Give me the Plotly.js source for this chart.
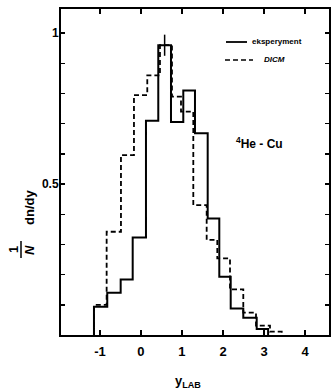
<!DOCTYPE html>
<html><head><meta charset="utf-8">
<script src="https://cdn.plot.ly/plotly-3.0.1.min.js"></script>
<style>html,body{margin:0;padding:0;background:#fff;}#chart{width:333px;height:389px;}</style>
</head><body><div id="chart"></div>
<script>
// Experimental histogram (solid)
const solidEdges = [-1.146, -0.822, -0.495, -0.202, 0.122, 0.422, 0.732, 1.032, 1.317, 1.627, 1.910, 2.188, 2.495, 2.822, 3.10];
const solidValues = [0.094, 0.14, 0.184, 0.323, 0.71, 0.96, 0.706, 0.81, 0.668, 0.386, 0.193, 0.088, 0.057, 0.02];
// DICM model histogram (dashed)
const dicmEdges = [-1.146, -0.837, -0.488, -0.171, 0.154, 0.463, 0.756, 0.976, 1.276, 1.602, 1.861, 2.171, 2.495, 2.805, 3.146, 3.432];
const dicmValues = [0.10, 0.342, 0.596, 0.795, 0.86, 0.96, 0.79, 0.74, 0.43, 0.315, 0.254, 0.151, 0.074, 0.031, 0.011];
// error bar on the experimental peak bin
const peakX = [0.577];
const peakY = [0.96];
const peakErr = [0.035];
const xTickVals = [-1, 0, 1, 2, 3, 4];
const xTickText = ['-1', '0', '1', '2', '3', '4'];
const yTickVals = [0.1, 0.2, 0.3, 0.4, 0.5, 0.6, 0.7, 0.8, 0.9, 1.0];
const yTickText = ['', '', '', '', '0.5', '', '', '', '', '1'];
const seriesNames = ['eksperyment', 'DICM'];

function steps(edges, values) {
  const x = [edges[0]], y = [0];
  for (let i = 0; i < values.length; i++) { x.push(edges[i]); y.push(values[i]); }
  x.push(edges[edges.length - 1]); y.push(0);
  return {x, y};
}
const s = steps(solidEdges, solidValues);
const d = steps(dicmEdges, dicmValues);

const FONT = 'Liberation Sans, Arial, sans-serif';
const traces = [
  {x: d.x, y: d.y, mode: 'lines', line: {shape: 'hv', color: '#000', width: 1.8, dash: '5px,3px'}, name: seriesNames[1], showlegend: false, hoverinfo: 'skip'},
  {x: s.x, y: s.y, mode: 'lines', line: {shape: 'hv', color: '#000', width: 2}, name: seriesNames[0], showlegend: false, hoverinfo: 'skip'},
  {x: peakX, y: peakY, mode: 'markers', marker: {size: 1, color: '#000', opacity: 0}, error_y: {type: 'data', array: peakErr, visible: true, color: '#000', thickness: 1.5, width: 0}, showlegend: false, hoverinfo: 'skip'}
];

const W = 333, H = 389, L = 61, R = 4, T = 9, B = 54;
const pw = W - L - R, ph = H - T - B;
const px = v => (v - L) / pw;
const py = v => (H - B - v) / ph;

const layout = {
  width: W, height: H,
  margin: {l: L, r: R, t: T, b: B, pad: 0},
  paper_bgcolor: '#fff', plot_bgcolor: '#fff',
  showlegend: false,
  xaxis: {range: [-1.95, 4.585], showgrid: false, zeroline: false, showline: true, linecolor: '#000', linewidth: 2, mirror: 'ticks',
    ticks: 'inside', ticklen: 5, tickwidth: 1.5, tickcolor: '#000', tickvals: xTickVals, ticktext: xTickText, ticklabelstandoff: 3,
    tickfont: {family: FONT, size: 13, color: '#000', weight: 'bold'}},
  yaxis: {range: [0, 1.08], showgrid: false, zeroline: false, showline: true, linecolor: '#000', linewidth: 2, mirror: 'ticks',
    ticks: 'inside', ticklen: 4, tickwidth: 1.5, tickcolor: '#000', tickvals: yTickVals, ticktext: yTickText, ticklabelstandoff: -2,
    tickfont: {family: FONT, size: 12, color: '#000', weight: 'bold'}},
  shapes: [
    {type: 'line', xref: 'paper', yref: 'paper', x0: px(226), x1: px(247), y0: py(42), y1: py(42), line: {color: '#000', width: 1.8}},
    {type: 'line', xref: 'paper', yref: 'paper', x0: px(225), x1: px(253), y0: py(60), y1: py(60), line: {color: '#000', width: 1.6, dash: '5px,3px'}},
    {type: 'line', xref: 'paper', yref: 'paper', x0: px(21), x1: px(21), y0: py(241), y1: py(258), line: {color: '#000', width: 1.5}}
  ],
  annotations: [
    {xref: 'paper', yref: 'paper', x: px(250), y: py(42), xanchor: 'left', yanchor: 'middle', showarrow: false, text: seriesNames[0], font: {family: FONT, size: 8, color: '#000', weight: 'bold'}},
    {xref: 'paper', yref: 'paper', x: px(262), y: py(60), xanchor: 'left', yanchor: 'middle', showarrow: false, text: '<i>' + seriesNames[1] + '</i>', font: {family: FONT, size: 8, color: '#000', weight: 'bold'}},
    {xref: 'paper', yref: 'paper', x: px(259), y: py(143), xanchor: 'center', yanchor: 'middle', showarrow: false, text: '<sup>4</sup>He - Cu', font: {family: FONT, size: 12, color: '#000', weight: 'bold'}},
    {xref: 'paper', yref: 'paper', x: px(188), y: py(381), xanchor: 'center', yanchor: 'middle', showarrow: false, text: 'y<sub>LAB</sub>', font: {family: FONT, size: 13, color: '#000', weight: 'bold'}},
    {xref: 'paper', yref: 'paper', x: px(29), y: py(208), xanchor: 'center', yanchor: 'middle', showarrow: false, textangle: -90, text: 'dn/dy', font: {family: FONT, size: 13, color: '#000', weight: 'bold'}},
    {xref: 'paper', yref: 'paper', x: px(14), y: py(250), xanchor: 'center', yanchor: 'middle', showarrow: false, textangle: -90, text: '1', font: {family: FONT, size: 13, color: '#000', weight: 'bold'}},
    {xref: 'paper', yref: 'paper', x: px(30), y: py(250), xanchor: 'center', yanchor: 'middle', showarrow: false, textangle: -90, text: '<i>N</i>', font: {family: FONT, size: 13, color: '#000', weight: 'bold'}}
  ]
};
Plotly.newPlot('chart', traces, layout, {staticPlot: true, displayModeBar: false});
</script></body></html>
